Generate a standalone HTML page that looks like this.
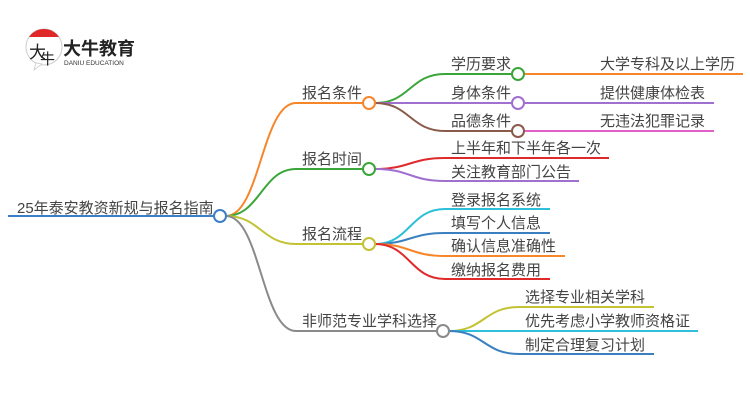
<!DOCTYPE html>
<html><head><meta charset="utf-8"><style>
html,body{margin:0;padding:0;background:#fff;}
svg{display:block;}
text{font-family:"Liberation Sans","Noto Sans CJK SC",sans-serif;fill:#444;}
</style></head><body>
<svg width="750" height="410" viewBox="0 0 750 410" xmlns="http://www.w3.org/2000/svg">
<!-- logo -->
<circle cx="44" cy="47" r="18" fill="#fff" stroke="#ccc" stroke-width="1"/>
<path d="M29 37 A18 18 0 0 1 59 37 Z" fill="#e02828"/>
<path d="M36 63 L34 70 L42 64 Z" fill="#fff" stroke="#ccc" stroke-width="0.8"/>
<text x="29" y="58" font-size="17" font-family="Liberation Serif,Noto Serif CJK SC,serif" style="fill:#222">大</text>
<text x="40" y="64" font-size="15" font-family="Liberation Serif,Noto Serif CJK SC,serif" style="fill:#222">牛</text>
<text x="63" y="55" font-size="18" font-weight="bold" style="fill:#222">大牛教育</text>
<text x="64" y="65" font-size="6.5" style="fill:#333">DANIU EDUCATION</text>

<g fill="none" stroke-width="2">
<path d="M8 216 H214" stroke="#3a7fc8"/>
<path d="M226 216 C260 216 262 103 296 103 H363" stroke="#f7862a"/>
<path d="M226 216 C260 216 262 169 296 169 H363" stroke="#3aa63a"/>
<path d="M226 216 C260 216 262 244 296 244 H363" stroke="#c2c232"/>
<path d="M226 216 C260 216 262 331 296 331 H437" stroke="#8a8a8a"/>
<path d="M375 103 C410 103 410 74 445 74 H512" stroke="#3aa63a"/>
<path d="M375 103 H512" stroke="#a070d0"/>
<path d="M375 103 C410 103 410 131 445 131 H512" stroke="#8a5a4a"/>
<path d="M524 74 H743" stroke="#f7862a"/>
<path d="M524 103 H714" stroke="#a070d0"/>
<path d="M524 131 H714" stroke="#e060c8"/>
<path d="M375 169 C410 169 410 158 445 158 H609" stroke="#e02a2a"/>
<path d="M375 169 C410 169 410 181 445 181 H579" stroke="#a070d0"/>
<path d="M375 244 C410 244 410 209 445 209 H550" stroke="#2ec0d8"/>
<path d="M375 244 C410 244 410 233 445 233 H550" stroke="#3a80c0"/>
<path d="M375 244 C410 244 410 256 445 256 H565" stroke="#f7862a"/>
<path d="M375 244 C410 244 410 279 445 279 H550" stroke="#e02a2a"/>
<path d="M449 331 C484 331 484 307 519 307 H654" stroke="#c2c232"/>
<path d="M449 331 H698" stroke="#2ec0d8"/>
<path d="M449 331 C484 331 484 354 519 354 H654" stroke="#3a80c0"/>
</g>
<g fill="#fff" stroke-width="2">
<circle cx="220" cy="216" r="6" stroke="#3a7fc8"/>
<circle cx="369" cy="103" r="6" stroke="#f7862a"/>
<circle cx="369" cy="169" r="6" stroke="#3aa63a"/>
<circle cx="369" cy="244" r="6" stroke="#c2c232"/>
<circle cx="443" cy="331" r="6" stroke="#8a8a8a"/>
<circle cx="518" cy="74" r="6" stroke="#3aa63a"/>
<circle cx="518" cy="103" r="6" stroke="#a070d0"/>
<circle cx="518" cy="131" r="6" stroke="#8a5a4a"/>
</g>
<g font-size="15">
<text x="17" y="213">25年泰安教资新规与报名指南</text>
<text x="302" y="98">报名条件</text>
<text x="302" y="164">报名时间</text>
<text x="302" y="239">报名流程</text>
<text x="302" y="326">非师范专业学科选择</text>
<text x="451" y="69">学历要求</text>
<text x="451" y="98">身体条件</text>
<text x="451" y="126">品德条件</text>
<text x="600" y="69">大学专科及以上学历</text>
<text x="600" y="98">提供健康体检表</text>
<text x="600" y="126">无违法犯罪记录</text>
<text x="451" y="153">上半年和下半年各一次</text>
<text x="451" y="177">关注教育部门公告</text>
<text x="451" y="205">登录报名系统</text>
<text x="451" y="228">填写个人信息</text>
<text x="451" y="251">确认信息准确性</text>
<text x="451" y="275">缴纳报名费用</text>
<text x="525" y="302">选择专业相关学科</text>
<text x="525" y="326">优先考虑小学教师资格证</text>
<text x="525" y="350">制定合理复习计划</text>
</g>
</svg>
</body></html>
